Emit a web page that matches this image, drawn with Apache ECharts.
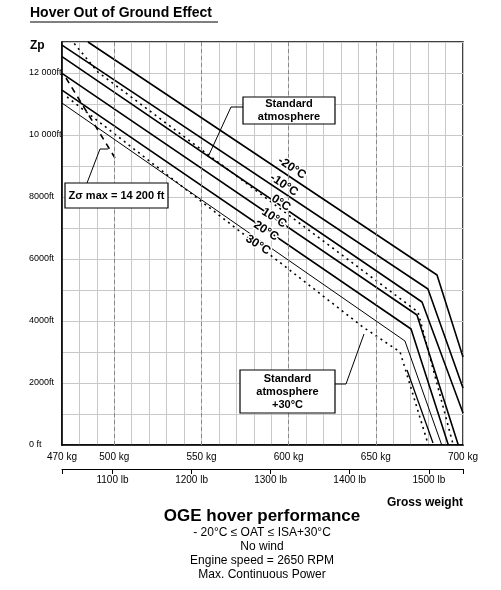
<!DOCTYPE html>
<html><head><meta charset="utf-8">
<script src="https://cdn.jsdelivr.net/npm/echarts@6/dist/echarts.min.js"></script>
<style>html,body{margin:0;padding:0;background:#fff}#c{width:501px;height:590px}</style>
</head><body><div id="c"></div>
<script>
// Data (x: gross weight kg, y: Zp ft)
const lineM20 = [[484.9,13000],[685.1,5484],[700,2839]];
const lineM10 = [[470,12900],[679.9,5032],[700,1839]];
const line0   = [[470,12526],[676.5,4613],[700,1032]];
const line10  = [[470,11990],[673.6,4194],[697.3,0]];
const line20  = [[470,11450],[670.2,3742],[691.6,0]];
const line30  = [[470,11030],[666.7,3355],[687.8,0]];
const lineExtra = [[667.9,2419],[682.8,65]];
const stdAtm  = [[477,12950],[490.6,12030],[674.2,4290],[694.4,0]];
const isa30   = [[472.9,11226],[642.6,3806],[663.9,3000],[680.1,0]];
const zsMax   = [[472.3,11839],[500.4,9258]];
const kgLabels = [470,500,550,600,650,700];
const dashedKg = [500,550,600,650];
const lbLabels = [1100,1200,1300,1400,1500];
const tempLabels = [['-20°C',292,168],['-10°C',284,185],['0°C',281,203],['10°C',274,218],['20°C',266,231],['30°C',258,245]];

const FONT='Liberation Sans, Arial, sans-serif';
const chart = echarts.init(document.getElementById('c'));
function solid(d,w){return {type:'line',data:d,symbol:'none',silent:true,lineStyle:{color:'#000',width:w||1.6},xAxisIndex:0,yAxisIndex:0};}
function dotted(d,dash){return {type:'line',data:d,symbol:'none',silent:true,lineStyle:{color:'#000',width:1.6,type:dash||[2,4]},xAxisIndex:0,yAxisIndex:0};}
const series=[
 solid(lineM20),solid(lineM10),solid(line0),solid(line10),solid(line20),solid(line30,1),
 solid(lineExtra,1.3),dotted(stdAtm),dotted(isa30),dotted(zsMax,[6,5]),
 {type:'line',data:[],xAxisIndex:0,yAxisIndex:0,markLine:{silent:true,symbol:'none',label:{show:false},
   lineStyle:{color:'#888',type:[4,3],width:1},data:dashedKg.map(v=>({xAxis:v}))}}
];
const g=[];
const Z=100;
g.push({type:'text',z:Z,left:30,top:6,style:{text:'Hover Out of Ground Effect',font:'bold 14px '+FONT,fill:'#000'}});
g.push({type:'line',z:Z,shape:{x1:30,y1:22,x2:218,y2:22},style:{stroke:'#000',lineWidth:1.2}});
g.push({type:'text',z:Z,left:30,top:40,style:{text:'Zp',font:'bold 12px '+FONT,fill:'#000'}});
tempLabels.forEach(t=>g.push({type:'text',z:Z,x:t[1],y:t[2],rotation:-0.58,style:{text:t[0],font:'bold 12px '+FONT,fill:'#000',stroke:'#fff',lineWidth:3,align:'center',verticalAlign:'middle'}}));
function box(x,y,w,h,txt){
 g.push({type:'rect',z:Z,shape:{x:x,y:y,width:w,height:h},style:{fill:'#fff',stroke:'#000',lineWidth:1.2}});
 g.push({type:'text',z:Z+1,x:x+w/2,y:y+h/2,style:{text:txt,font:'bold 11px '+FONT,fill:'#000',align:'center',verticalAlign:'middle',lineHeight:13}});
}
g.push({type:'polyline',z:Z,shape:{points:[[243,107],[231,107],[208,157]]},style:{stroke:'#000',lineWidth:1,fill:null}});
box(243,97,92,27,'Standard\natmosphere');
g.push({type:'polyline',z:Z,shape:{points:[[87,183],[100,149],[108,149]]},style:{stroke:'#000',lineWidth:1,fill:null}});
box(65,183,103,25,'Zσ max = 14 200 ft');
g.push({type:'polyline',z:Z,shape:{points:[[335,384],[346,384],[364,334]]},style:{stroke:'#000',lineWidth:1,fill:null}});
box(240,370,95,43,'Standard\natmosphere\n+30°C');
g.push({type:'text',z:Z,x:463,y:503,style:{text:'Gross weight',font:'bold 12px '+FONT,fill:'#000',align:'right',verticalAlign:'middle'}});
g.push({type:'text',z:Z,x:262,y:516,style:{text:'OGE hover performance',font:'bold 17px '+FONT,fill:'#000',align:'center',verticalAlign:'middle'}});
['- 20°C ≤ OAT ≤ ISA+30°C','No wind','Engine speed = 2650 RPM','Max. Continuous Power'].forEach((s,i)=>
 g.push({type:'text',z:Z,x:262,y:533+i*14,style:{text:s,font:'12px '+FONT,fill:'#000',align:'center',verticalAlign:'middle'}}));

chart.setOption({
 animation:false,
 textStyle:{fontFamily:FONT},
 grid:{left:62,right:38,top:42,bottom:145,show:true,borderColor:'#000',borderWidth:1.5,backgroundColor:'transparent'},
 xAxis:[
  {type:'value',min:470,max:700,interval:10,
   axisLine:{show:true,lineStyle:{color:'#000',width:1.5}},
   axisTick:{show:false},
   splitLine:{show:true,lineStyle:{color:'#c8c8c8',width:1}},
   axisLabel:{show:true,color:'#000',fontSize:10,margin:7,customValues:kgLabels,formatter:v=>v+' kg'}},
  {type:'value',position:'bottom',offset:24,gridIndex:0,min:470/0.45359237,max:700/0.45359237,
   axisLine:{show:true,lineStyle:{color:'#000',width:1}},
   axisTick:{show:true,inside:false,length:5,lineStyle:{color:'#000'},customValues:[470/0.45359237].concat(lbLabels,[700/0.45359237])},
   splitLine:{show:false},
   axisLabel:{color:'#000',fontSize:10,margin:6,customValues:lbLabels,formatter:v=>v+' lb'}}
 ],
 yAxis:{type:'value',min:0,max:13000,interval:1000,
  axisLine:{show:true,lineStyle:{color:'#000',width:1.5}},axisTick:{show:false},
  splitLine:{show:true,lineStyle:{color:'#c8c8c8',width:1}},
  axisLabel:{color:'#000',fontSize:9,align:'left',margin:33,
   formatter:v=>{if(v%2000!==0||v>12000)return '';if(v===0)return '0 ft';if(v>=10000)return Math.floor(v/1000)+' 000ft';return v+'ft';}}},
 series:series,
 graphic:g
});
</script></body></html>
